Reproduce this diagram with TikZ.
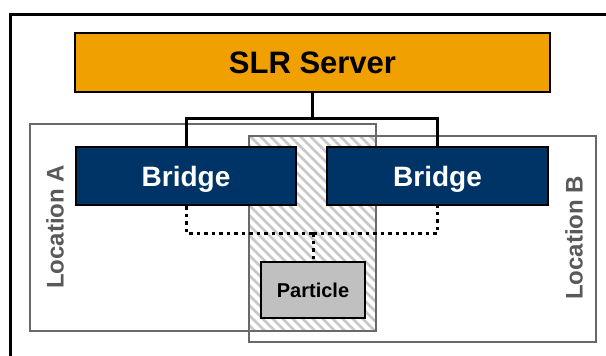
\documentclass[tikz,border=0pt]{standalone}
\usepackage{fontspec}
\setmainfont{Liberation Sans}

\definecolor{slrorange}{RGB}{240,160,0}
\definecolor{bridgeblue}{RGB}{0,51,102}
\definecolor{locgray}{RGB}{105,105,105}
\definecolor{labelgray}{RGB}{89,89,89}
\definecolor{hatchgray}{RGB}{200,200,200}
\definecolor{partgray}{RGB}{192,192,192}

\begin{document}
\begin{tikzpicture}[x=1pt, y=-1pt,
  box/.style={draw=black, line width=2pt, inner sep=0pt, text depth=0pt},
  locbox/.style={draw=locgray, line width=1.5pt, inner sep=0pt},
  loclabel/.style={text=labelgray, rotate=90, font=\fontsize{24}{24}\selectfont\bfseries},
  link/.style={line width=3pt},
  dotlink/.style={line width=3pt, dash pattern=on 3.5pt off 4pt}]

\useasboundingbox (0,0) rectangle (606,356);
\clip (0,0) rectangle (606,356);

% outer frame
\draw[line width=3pt] (10,14) rectangle (640,400);

% shared area of both locations
\begin{scope}
\clip (249,136) rectangle (376,331);
\foreach \x in {40,50,...,390}
  \draw[hatchgray, line width=2.5pt] (\x,126) -- ++(220,220);
\end{scope}

% locations
\node[locbox, minimum width=346pt, minimum height=207pt] (locA) at (203,227.5) {};
\node[locbox, minimum width=347pt, minimum height=206pt] (locB) at (422.5,239) {};
\node[loclabel] (labA) at (55,227) {Location A};
\node[loclabel] (labB) at (574,238) {Location B};

% boxes
\node[box, fill=slrorange, minimum width=475pt, minimum height=59pt, text height=22pt,
      font=\fontsize{31}{31}\selectfont\bfseries] (server) at (312.5,62.5) {SLR Server};
\node[box, fill=bridgeblue, text=white, minimum width=220pt, minimum height=58pt, text height=20pt,
      font=\fontsize{28}{28}\selectfont\bfseries] (bridgeA) at (186,176) {Bridge};
\node[box, fill=bridgeblue, text=white, minimum width=221pt, minimum height=58pt, text height=20pt,
      font=\fontsize{28}{28}\selectfont\bfseries] (bridgeB) at (437.5,176) {Bridge};
\node[box, fill=partgray, minimum width=104pt, minimum height=56pt, text height=14.3pt,
      font=\fontsize{20}{20}\selectfont\bfseries] (particle) at (313,290) {Particle};

% solid links
\coordinate (bus) at (312.5,118);
\draw[link] (server.south) -- (bus);
\draw[link] (bus) -| (bridgeA.north);
\draw[link] (bus) -| (bridgeB.north);

% dotted links
\coordinate (dotbus) at (313,233);
\draw[dotlink] (bridgeA.south) |- (dotbus);
\draw[dotlink] (dotbus) -| (bridgeB.south);
\draw[dotlink] (dotbus) -- (particle.north);

\end{tikzpicture}
\end{document}
